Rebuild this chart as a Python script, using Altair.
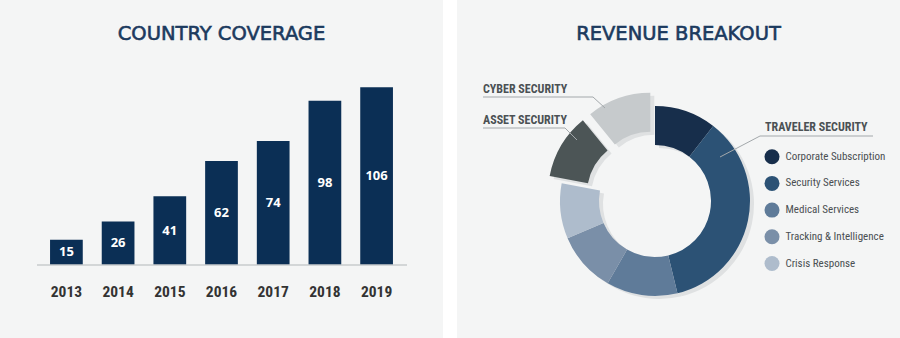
import math
import altair as alt
import pandas as pd

# ---------------- data ----------------
years = ["2013", "2014", "2015", "2016", "2017", "2018", "2019"]
countries = [15, 26, 41, 62, 74, 98, 106]

segments = [
    "Corporate Subscription",
    "Security Services",
    "Medical Services",
    "Tracking & Intelligence",
    "Crisis Response",
    "Asset Security",
    "Cyber Security",
]
shares = [10.5, 35.7, 12.1, 10.3, 9.4, 11.1, 10.9]
seg_colors = ["#172e4b", "#2c5275", "#5f7b99", "#7a8fa8", "#aebccc", "#4c5556", "#c6cacc"]
legend_items = segments[:5]

PANEL = "#f4f5f5"
NAVY = "#0b2f55"
TITLE_C = "#1b3a5e"
NARROW = "Liberation Sans Narrow, Roboto Condensed, DejaVu Sans Condensed, sans-serif"
one = alt.Data(values=[{}])

# ---------------- left panel: bars ----------------
bars_df = pd.DataFrame({"year": years, "countries": countries})

x_enc = alt.X(
    "year:N",
    sort=years,
    scale=alt.Scale(paddingInner=0.367, paddingOuter=0.968),
    axis=alt.Axis(
        orient="bottom", offset=-73, domain=False, ticks=False, grid=False,
        labelPadding=19, labelAngle=0, labelFont=NARROW, labelFontSize=15.5,
        labelFontWeight="bold", labelColor="#333333", title=None,
    ),
)
y_scale = alt.Scale(domain=[-43.55, 158.1], nice=False, zero=False)

bars = alt.Chart(bars_df).mark_bar(color=NAVY).encode(
    x=x_enc,
    y=alt.Y("countries:Q", scale=y_scale, axis=None),
    y2=alt.datum(0),
)
bar_labels = (
    alt.Chart(bars_df)
    .transform_calculate(mid="datum.countries / 2")
    .mark_text(color="white", font="Open Sans", fontWeight="bold", fontSize=13, baseline="middle")
    .encode(x=x_enc, y=alt.Y("mid:Q", scale=y_scale, axis=None), text="countries:Q")
)
baseline = alt.Chart(one).mark_rule(color="#c8cbcd", strokeWidth=1.5).encode(
    x=alt.value(37), x2=alt.value(407), y=alt.Y(datum=0, scale=y_scale, axis=None)
)


def panel_title(txt):
    return alt.Chart(one).mark_text(
        text=txt, font="DejaVu Sans", fontWeight="normal", fontSize=19.5,
        color=TITLE_C, stroke=TITLE_C, strokeWidth=0.6, align="center", baseline="alphabetic",
    ).encode(x=alt.value(221.5), y=alt.value(39.5))


left = alt.layer(bars, bar_labels, baseline, panel_title("COUNTRY COVERAGE")).properties(
    width=443, height=338
)

# ---------------- right panel: donut ----------------
df = pd.DataFrame({"segment": segments, "share": shares, "order": list(range(len(segments)))})
CX, CY, R_OUT, R_IN, EXPLODE = 198, 201, 95, 56, 14
total = sum(shares)
RIGHT_X0 = 443 + 14  # left edge of the right panel in the whole picture (for the legend)

base = (
    alt.Chart(df)
    .transform_window(cum="sum(share)", sort=[alt.SortField("order")], frame=[None, 0])
    .transform_calculate(start="datum.cum - datum.share")
)
theta = alt.Theta("start:Q", scale=alt.Scale(domain=[0, total], range=[0, 2 * math.pi]), stack=None)
theta2 = alt.Theta2("cum:Q")
color = alt.Color(
    "segment:N",
    scale=alt.Scale(domain=segments, range=seg_colors),
    legend=alt.Legend(
        values=legend_items, orient="none", legendX=RIGHT_X0 + 307.5, legendY=149.2, title=None,
        symbolType="circle", symbolSize=225, symbolStrokeWidth=0, labelFont=NARROW,
        labelFontSize=11, labelColor="#4a4f52", rowPadding=11.7, labelOffset=6, padding=0,
    ),
)


def offset_for(name):
    i = segments.index(name)
    mid = (sum(shares[:i]) + shares[i] / 2) / total * 2 * math.pi
    return EXPLODE * math.sin(mid), -EXPLODE * math.cos(mid)


def ring(names, dx, dy, shadow=False):
    enc = dict(theta=theta, theta2=theta2)
    enc["color"] = alt.value("#dfe1e2") if shadow else color
    return (
        base.transform_filter(alt.FieldOneOfPredicate(field="segment", oneOf=names))
        .mark_arc(x=CX + dx, y=CY + dy, radius=R_OUT, radius2=R_IN)
        .encode(**enc)
    )


ax, ay = offset_for("Asset Security")
cx_, cy_ = offset_for("Cyber Security")
SH = (4, 3)
layers = [
    ring(legend_items, SH[0], SH[1], shadow=True),
    ring(["Asset Security"], ax + SH[0], ay + SH[1], shadow=True),
    ring(["Cyber Security"], cx_ + SH[0], cy_ + SH[1], shadow=True),
    ring(legend_items, 0, 0),
    ring(["Asset Security"], ax, ay),
    ring(["Cyber Security"], cx_, cy_),
]


def seg(x1, y1, x2, y2):
    return alt.Chart(one).mark_rule(color="#a3a8ab", strokeWidth=1).encode(
        x=alt.value(x1), y=alt.value(y1), x2=alt.value(x2), y2=alt.value(y2)
    )


def label(txt, x, y):
    return alt.Chart(one).mark_text(
        text=txt, font=NARROW, fontWeight="bold", fontSize=12, color="#4b5154",
        align="left", baseline="alphabetic",
    ).encode(x=alt.value(x), y=alt.value(y))


annotations = [
    label("CYBER SECURITY", 26, 93.3),
    seg(26, 97, 136, 97), seg(136, 97, 148, 108),
    label("ASSET SECURITY", 26, 123.7),
    seg(26, 128, 108, 128), seg(108, 128, 120, 140),
    label("TRAVELER SECURITY", 308, 131.3),
    seg(303, 136, 416, 136), seg(303, 136, 263, 157),
]

right = alt.layer(*layers, *annotations, panel_title("REVENUE BREAKOUT")).properties(
    width=443, height=338
)

chart = (
    alt.hconcat(left, right, spacing=14)
    .configure(background="white", padding=0)
    .configure_view(fill=PANEL, stroke=None)
)

chart.save("out.html", embed_options={"renderer": "svg", "actions": False})
